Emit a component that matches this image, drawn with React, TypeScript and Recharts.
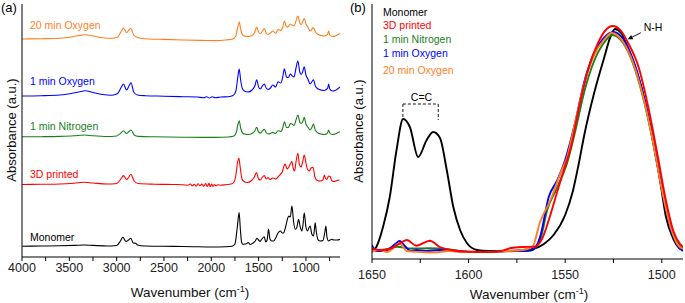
import React from "react";
import { LineChart, Line, XAxis, YAxis, ReferenceLine } from "recharts";

const FONT = '"Liberation Sans", Arial, Helvetica, sans-serif';

type Pt = [number, number]; // [wavenumber, absorbance (offset, a.u.)]

// ---- panel (a): full spectra, stacked with offsets ----
const monomerFull: Pt[] = [
  [4000, 10.8], [3800, 11], [3600, 11.2], [3450, 11.6], [3340, 12], [3250, 11.6], [3100, 11], [3000, 11.5],
  [2960, 16], [2935, 19.7], [2900, 15.5], [2875, 17], [2850, 18.7], [2825, 14], [2800, 13.8], [2780, 12],
  [2700, 11], [2400, 10.6], [2200, 10.3], [2000, 10], [1850, 10.3], [1780, 10.8], [1750, 13], [1725, 30],
  [1706, 44.5], [1693, 28], [1680, 15], [1665, 12.5], [1640, 13], [1625, 13.5], [1610, 14.5], [1590, 12.5],
  [1560, 14], [1535, 16], [1518, 18.7], [1500, 17], [1485, 15.5], [1465, 18], [1440, 20.3], [1425, 15],
  [1410, 17], [1395, 27.7], [1380, 18], [1360, 16], [1342, 16], [1320, 19], [1295, 24], [1270, 26],
  [1250, 24], [1235, 24.3], [1215, 30], [1195, 38], [1182, 41], [1165, 40], [1148, 51], [1130, 35],
  [1113, 27.7], [1095, 30], [1078, 37.7], [1060, 30], [1043, 26], [1030, 33], [1018, 44.3], [1000, 30],
  [983, 26], [970, 29], [955, 31], [938, 23], [920, 21], [910, 28], [902, 34.3], [890, 25], [870, 17],
  [849, 16], [820, 16.5], [800, 25], [789, 31], [778, 20], [761, 16], [745, 17], [726, 17.7], [700, 17],
  [670, 17], [640, 17.7],
];

const printedFull: Pt[] = [
  [4000, 72.5], [3800, 72.7], [3600, 73], [3450, 73.8], [3340, 74.7], [3250, 74], [3100, 73], [3000, 73.5],
  [2955, 78], [2928, 81.4], [2895, 77.5], [2870, 80], [2850, 82.7], [2815, 76], [2770, 73.5], [2600, 72.8],
  [2400, 72.5], [2300, 72.3], [2250, 71.8], [2220, 73], [2200, 71], [2180, 72.8], [2160, 70.8], [2140, 73.2],
  [2120, 71.3], [2100, 72.9], [2080, 70.6], [2060, 73.5], [2040, 70.5], [2025, 73.8], [2010, 70.2],
  [1995, 72.9], [1980, 70.3], [1965, 72.5], [1950, 71], [1930, 72.3], [1900, 71.8], [1850, 72.3],
  [1790, 73], [1760, 75], [1740, 82], [1722, 95], [1708, 98.7], [1695, 90], [1675, 78], [1655, 75.5],
  [1620, 74.5], [1580, 76], [1545, 80], [1522, 84.4], [1500, 78], [1480, 77], [1460, 80], [1440, 81.4],
  [1420, 78], [1400, 79.5], [1380, 77.5], [1350, 79], [1320, 78], [1295, 80], [1270, 82.7], [1250, 85],
  [1232, 91], [1219, 93], [1200, 88], [1175, 91], [1160, 94], [1148, 95.4], [1135, 89], [1120, 86],
  [1105, 95], [1085, 103.7], [1068, 92], [1050, 90], [1035, 95], [1018, 102], [1000, 94], [985, 88],
  [965, 86], [945, 89], [925, 89.7], [905, 80], [880, 76.5], [850, 76], [820, 77], [805, 82], [795, 79],
  [780, 77.5], [760, 81], [745, 80.5], [725, 76], [700, 75.5], [670, 76.5], [645, 77],
];

const nitrogenFull: Pt[] = [
  [4000, 120.2], [3800, 120.3], [3600, 120.6], [3450, 121.2], [3340, 122], [3250, 121.2], [3100, 120.5],
  [3000, 121], [2955, 124], [2928, 126.3], [2895, 123.5], [2870, 125.5], [2848, 127], [2815, 122],
  [2770, 120.6], [2600, 120.2], [2300, 119.8], [2100, 119.6], [1950, 119.6], [1820, 120], [1760, 121],
  [1735, 125], [1720, 132], [1705, 136.3], [1690, 129], [1670, 124], [1650, 123], [1610, 122.5],
  [1570, 123.5], [1540, 126], [1520, 129.6], [1500, 125], [1480, 124], [1460, 126], [1440, 127.6],
  [1420, 124.5], [1400, 123], [1375, 123.5], [1350, 124.6], [1320, 123.5], [1295, 126.3], [1265, 125.5],
  [1245, 129], [1228, 135.3], [1205, 129.5], [1185, 129.5], [1165, 133.5], [1148, 133], [1125, 131.5],
  [1105, 137], [1085, 142], [1065, 135], [1050, 133.5], [1035, 135], [1018, 139.6], [1000, 133],
  [980, 130], [955, 127], [935, 130], [920, 133], [900, 126.5], [870, 124], [840, 123], [810, 122.5],
  [785, 123], [770, 124.5], [760, 127], [748, 124], [720, 122.5], [690, 123], [660, 124.5], [640, 125.3],
];

const oxygen1Full: Pt[] = [
  [4000, 161], [3800, 161.3], [3600, 162], [3480, 163.5], [3400, 165], [3330, 166.3], [3250, 164.5],
  [3150, 162.5], [3050, 161.8], [2990, 163.5], [2950, 170], [2928, 173], [2895, 167], [2870, 171],
  [2848, 174.3], [2820, 165], [2780, 162], [2700, 161.3], [2500, 160.8], [2300, 160.3], [2150, 160],
  [2080, 159.3], [2050, 160.3], [2020, 159], [1990, 160.2], [1960, 159.2], [1900, 160], [1820, 160.3],
  [1770, 161.5], [1740, 166], [1720, 180], [1705, 188], [1690, 177], [1670, 168], [1650, 166],
  [1610, 165], [1570, 167], [1540, 171], [1520, 177.3], [1500, 170], [1480, 168], [1460, 171],
  [1440, 173], [1420, 169], [1400, 167.5], [1375, 169], [1350, 172], [1320, 170], [1295, 175.3],
  [1265, 174], [1245, 180], [1228, 188.3], [1205, 180], [1185, 179.5], [1165, 183], [1148, 181.3],
  [1125, 180], [1105, 189], [1085, 196], [1065, 185], [1050, 182.5], [1035, 185], [1018, 190.3],
  [1000, 182], [980, 178], [955, 173], [935, 175.5], [920, 177.3], [900, 171], [870, 168], [840, 167],
  [810, 166.5], [785, 167.5], [770, 169], [760, 173], [748, 168], [720, 166], [690, 166.5], [660, 168.5],
  [640, 170],
];

const oxygen20Full: Pt[] = [
  [4000, 218], [3800, 218.3], [3600, 218.8], [3480, 220], [3400, 221.5], [3330, 222.2], [3250, 221],
  [3150, 219.3], [3050, 218.7], [2990, 220], [2950, 226], [2928, 229], [2895, 224.5], [2870, 227],
  [2850, 228.5], [2820, 222], [2780, 219.5], [2700, 218.3], [2500, 217.6], [2300, 217], [2100, 216.6],
  [1950, 216.4], [1850, 217], [1780, 217.8], [1740, 221], [1720, 230], [1705, 235], [1690, 228],
  [1670, 222], [1650, 221], [1610, 220.5], [1570, 221.5], [1540, 225], [1520, 230], [1500, 225],
  [1480, 223.5], [1460, 226], [1440, 228.5], [1420, 224], [1400, 222.5], [1375, 224], [1350, 226],
  [1320, 223.5], [1295, 227.5], [1265, 226.5], [1245, 230], [1228, 236], [1205, 230], [1185, 230.5],
  [1165, 233], [1148, 232], [1125, 231], [1105, 236], [1085, 241], [1065, 234], [1050, 232.5],
  [1035, 235], [1018, 238.5], [1000, 233], [980, 230], [955, 226], [935, 228], [920, 229.5], [900, 225],
  [870, 222.5], [840, 221.5], [810, 221], [785, 221.5], [770, 223], [760, 226], [748, 222], [720, 220.5],
  [690, 221], [660, 222.5], [640, 223.5],
];

// ---- panel (b): C=C / N-H region ----
const monomerZoom: Pt[] = [
  [1650, 7.3], [1647.7, 12.3], [1644.3, 32], [1640.8, 62], [1637.3, 109], [1633.9, 140], [1630.4, 132],
  [1626.1, 102], [1621.7, 119], [1618.3, 127], [1614.8, 121], [1611.3, 89], [1607.9, 52], [1604.4, 29],
  [1600.9, 16], [1595.7, 9], [1590, 8], [1580, 8], [1572, 9], [1566, 10.5], [1561, 15], [1556, 24],
  [1550, 44], [1546, 68], [1543, 95], [1540, 125], [1535, 166], [1530, 200], [1526.4, 223], [1524.2, 230],
  [1521, 226], [1517.7, 212], [1513, 188], [1509, 160], [1505, 122], [1501, 80], [1497.8, 42], [1494, 20],
  [1491, 11], [1489, 9],
];

const printedZoom: Pt[] = [
  [1650, 10.7], [1646, 9], [1641, 10], [1636, 15], [1632, 19], [1627, 13.3], [1620, 18.3], [1615, 12],
  [1609, 9], [1600, 7.3], [1590, 7], [1583, 8], [1578, 11], [1572, 12], [1566, 12.3], [1562, 20],
  [1558, 42], [1554, 68], [1550.7, 89], [1547, 112], [1543, 150], [1538, 190], [1533, 216], [1529, 229],
  [1525.5, 233], [1521, 228], [1517.7, 217], [1512, 192], [1507, 152], [1502, 102], [1498, 60], [1494, 28],
  [1490.5, 15], [1489, 12],
];

const nitrogenZoom: Pt[] = [
  [1650, 9], [1645, 9], [1637, 12.3], [1630, 10.5], [1620, 10.7], [1612, 10], [1605, 8], [1595, 7],
  [1585, 7.5], [1575, 8], [1568, 8.5], [1563, 19], [1559.3, 49], [1554, 72], [1549, 96], [1545, 126],
  [1540, 168], [1535, 198], [1530, 216], [1525.5, 224], [1520, 216], [1515, 196], [1510, 164], [1505, 122],
  [1500, 73], [1496, 38], [1492, 17], [1489, 10],
];

const oxygen1Zoom: Pt[] = [
  [1650, 14], [1648, 8], [1645, 8], [1642, 9], [1638, 15], [1635.7, 18], [1633, 13], [1630, 8], [1627, 9],
  [1622, 8], [1615, 9], [1608, 8], [1600, 7], [1590, 7], [1580, 8], [1572, 8], [1567, 9], [1563, 22],
  [1558.5, 62], [1554, 79], [1550, 99], [1545, 135], [1540, 178], [1535, 206], [1530, 221], [1525, 227],
  [1520, 220], [1515, 200], [1510, 168], [1505, 125], [1500, 70], [1496, 35], [1492, 14], [1489, 8],
];

const oxygen20Zoom: Pt[] = [
  [1650, 8], [1646, 9], [1642, 7], [1635.6, 15.7], [1632, 8], [1625, 7], [1618, 6.5], [1610, 8], [1600, 7],
  [1590, 7], [1580, 8], [1572, 9], [1567, 12], [1563, 37], [1557.6, 59], [1552.4, 86], [1549, 102],
  [1545, 135], [1540, 176], [1535, 204], [1530, 219], [1526, 226], [1520, 217], [1515, 197], [1510, 165],
  [1505, 122], [1500, 70], [1496, 36], [1492, 15], [1489, 10],
];

const fullTicks = [4000, 3750, 3500, 3250, 3000, 2750, 2500, 2250, 2000, 1750, 1500, 1250, 1000, 750];
const zoomTicks = [1650, 1625, 1600, 1575, 1550, 1525, 1500];

const toRows = (arr: Pt[]) => arr.map(([wn, a]) => ({ wn, a }));

const BLACK = "#000000";
const RED = "#ff0000";
const GREEN = "#1a7f1a";
const BLUE = "#0000ff";
const ORANGE = "#ff7f1e";

const seriesA = [
  { name: "Monomer", color: BLACK, data: monomerFull },
  { name: "3D printed", color: RED, data: printedFull },
  { name: "1 min Nitrogen", color: GREEN, data: nitrogenFull },
  { name: "1 min Oxygen", color: BLUE, data: oxygen1Full },
  { name: "20 min Oxygen", color: ORANGE, data: oxygen20Full },
];

const seriesB = [
  { name: "Monomer", color: BLACK, data: monomerZoom },
  { name: "1 min Nitrogen", color: GREEN, data: nitrogenZoom },
  { name: "1 min Oxygen", color: BLUE, data: oxygen1Zoom },
  { name: "20 min Oxygen", color: ORANGE, data: oxygen20Zoom },
  { name: "3D printed", color: RED, data: printedZoom },
];

const makeTick = (every: number) => (props: any) => {
  const { x, y, payload } = props;
  if (payload.value % every !== 0) return <g />;
  return (
    <text x={x} y={y} dy="0.71em" textAnchor="middle" fontSize={12.5} fill="#222" fontFamily={FONT}>
      {payload.value}
    </text>
  );
};

// arrow used for the N-H pointer
const ArrowShape = (p: any) => {
  const { x1, y1, x2, y2 } = p;
  const ang = Math.atan2(y2 - y1, x2 - x1);
  const L = 5;
  const W = 2.4;
  const bx = x2 - L * Math.cos(ang);
  const by = y2 - L * Math.sin(ang);
  const px = -Math.sin(ang) * W;
  const py = Math.cos(ang) * W;
  return (
    <g>
      <line x1={x1} y1={y1} x2={bx} y2={by} stroke="#000" strokeWidth={0.9} />
      <polygon points={`${x2},${y2} ${bx + px},${by + py} ${bx - px},${by - py}`} fill="#000" />
    </g>
  );
};

const Txt = ({ x, y, color = "#000", size = 10.5, anchor = "start", children }: any) => (
  <div
    style={{
      position: "absolute",
      left: x,
      top: y,
      transform: `translate(${anchor === "middle" ? "-50%" : "0"}, -50%)`,
      color,
      fontSize: size,
      lineHeight: 1,
      fontFamily: FONT,
      whiteSpace: "nowrap",
    }}
  >
    {children}
  </div>
);

const VTxt = ({ x, y, children }: any) => (
  <div
    style={{
      position: "absolute",
      left: x,
      top: y,
      transform: "translate(-50%, -50%) rotate(-90deg)",
      fontSize: 13,
      lineHeight: 1,
      fontFamily: FONT,
      whiteSpace: "nowrap",
      color: "#111",
    }}
  >
    {children}
  </div>
);

const axisStroke = { stroke: "#000", strokeWidth: 1 };

export default function App() {
  return (
    <div style={{ position: "absolute", left: 0, top: 0, width: 685, height: 303, background: "#fff" }}>
      {/* panel (a) */}
      <div style={{ position: "absolute", left: 0, top: 0 }}>
        <LineChart width={345} height={303} margin={{ top: 4, right: 5, bottom: 0, left: 0 }}>
          <XAxis
            dataKey="wn"
            type="number"
            domain={[640, 4000]}
            reversed
            allowDataOverflow
            ticks={fullTicks}
            interval={0}
            height={46}
            tickSize={4}
            tickMargin={2}
            axisLine={axisStroke}
            tickLine={axisStroke}
            tick={makeTick(500)}
          />
          <XAxis xAxisId="top" orientation="top" type="number" domain={[0, 1]} height={0} tick={false} tickLine={false} axisLine={axisStroke} />
          <YAxis type="number" domain={[0, 253]} width={22} tick={false} tickLine={false} axisLine={axisStroke} allowDataOverflow />
          <YAxis yAxisId="right" orientation="right" type="number" domain={[0, 1]} width={0} tick={false} tickLine={false} axisLine={axisStroke} />
          {seriesA.map((s) => (
            <Line
              key={s.name}
              data={toRows(s.data)}
              dataKey="a"
              name={s.name}
              type="monotone"
              stroke={s.color}
              strokeWidth={1.1}
              dot={false}
              isAnimationActive={false}
            />
          ))}
        </LineChart>
      </div>

      {/* panel (b) */}
      <div style={{ position: "absolute", left: 345, top: 0 }}>
        <LineChart width={340} height={303} margin={{ top: 4, right: 2, bottom: 0, left: 0 }}>
          <XAxis
            dataKey="wn"
            type="number"
            domain={[1489, 1650]}
            reversed
            allowDataOverflow
            ticks={zoomTicks}
            interval={0}
            height={44}
            tickSize={4}
            tickMargin={7}
            axisLine={axisStroke}
            tickLine={axisStroke}
            tick={makeTick(50)}
          />
          <XAxis xAxisId="top" orientation="top" type="number" domain={[0, 1]} height={0} tick={false} tickLine={false} axisLine={axisStroke} />
          <YAxis type="number" domain={[0, 255]} width={27} tick={false} tickLine={false} axisLine={axisStroke} allowDataOverflow />
          <YAxis yAxisId="right" orientation="right" type="number" domain={[0, 1]} width={0} tick={false} tickLine={false} axisLine={axisStroke} />
          {seriesB.map((s) => (
            <Line
              key={s.name}
              data={toRows(s.data)}
              dataKey="a"
              name={s.name}
              type="monotone"
              stroke={s.color}
              strokeWidth={1.9}
              dot={false}
              isAnimationActive={false}
            />
          ))}
          {/* C=C bracket */}
          <ReferenceLine segment={[{ x: 1634, y: 142 }, { x: 1634, y: 155 }]} stroke="#000" strokeWidth={0.9} strokeDasharray="3 2" />
          <ReferenceLine segment={[{ x: 1634, y: 155 }, { x: 1615.7, y: 155 }]} stroke="#000" strokeWidth={0.9} strokeDasharray="3 2" />
          <ReferenceLine segment={[{ x: 1615.7, y: 155 }, { x: 1615.7, y: 139 }]} stroke="#000" strokeWidth={0.9} strokeDasharray="3 2" />
          {/* N-H pointer */}
          <ReferenceLine segment={[{ x: 1510.8, y: 226.3 }, { x: 1517.6, y: 219.7 }]} shape={ArrowShape} />
        </LineChart>
      </div>

      {/* panel letters */}
      <Txt x={1} y={7} size={13}>(a)</Txt>
      <Txt x={350} y={7} size={13}>(b)</Txt>

      {/* panel (a) curve labels */}
      <Txt x={30} y={25} color={ORANGE}>20 min Oxygen</Txt>
      <Txt x={30} y={81} color={BLUE}>1 min Oxygen</Txt>
      <Txt x={30} y={126} color={GREEN}>1 min Nitrogen</Txt>
      <Txt x={30} y={174} color={RED}>3D printed</Txt>
      <Txt x={30} y={237} color={BLACK}>Monomer</Txt>

      {/* panel (b) legend */}
      <Txt x={383} y={12} color={BLACK}>Monomer</Txt>
      <Txt x={383} y={25} color={RED}>3D printed</Txt>
      <Txt x={383} y={39} color={GREEN}>1 min Nitrogen</Txt>
      <Txt x={383} y={53} color={BLUE}>1 min Oxygen</Txt>
      <Txt x={383} y={70} color={ORANGE}>20 min Oxygen</Txt>

      {/* annotations */}
      <Txt x={421.5} y={96.5} anchor="middle">C=C</Txt>
      <Txt x={653} y={26.5} anchor="middle">N-H</Txt>

      {/* axis titles */}
      <VTxt x={11} y={130}>Absorbance (a.u.)</VTxt>
      <VTxt x={358} y={131}>Absorbance (a.u.)</VTxt>
      <Txt x={190} y={293} size={13.5} anchor="middle" color="#111">
        Wavenumber (cm<sup style={{ fontSize: 9, verticalAlign: "0.55em", lineHeight: 0 }}>-1</sup>)
      </Txt>
      <Txt x={529} y={295} size={13.5} anchor="middle" color="#111">
        Wavenumber (cm<sup style={{ fontSize: 9, verticalAlign: "0.55em", lineHeight: 0 }}>-1</sup>)
      </Txt>
    </div>
  );
}
